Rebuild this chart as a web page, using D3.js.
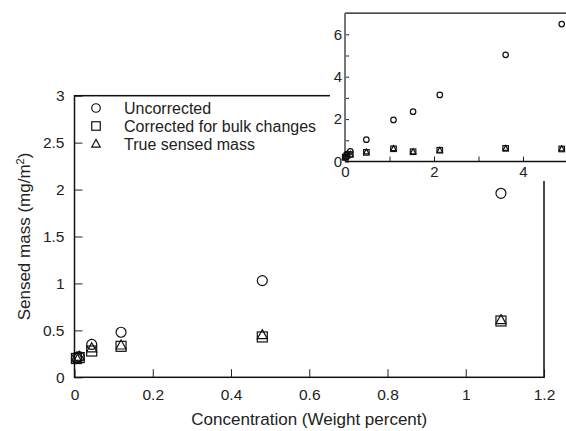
<!DOCTYPE html>
<html>
<head>
<meta charset="utf-8">
<script src="https://cdn.jsdelivr.net/npm/d3@7"></script>
<style>
  body { margin: 0; background: #fff; }
  svg { display: block; font-family: "Liberation Sans", Arial, sans-serif; }
  .axis text { font-size: 15.5px; fill: #222; }
  .axis line, .axis path { stroke: #222; }
  .inset .axis text { font-size: 15px; }
</style>
</head>
<body>
<div class="chart"></div>
<script>
// data
const conc = [0.005, 0.012, 0.044, 0.119, 0.48, 1.09, 1.53, 2.13, 3.61, 4.87];
const uncorrected = [0.2, 0.22, 0.35, 0.48, 1.03, 1.96, 2.35, 3.14, 5.03, 6.48];
const corrected = [0.2, 0.21, 0.28, 0.33, 0.43, 0.6, 0.46, 0.53, 0.62, 0.59];
const trueMass = [0.21, 0.22, 0.31, 0.34, 0.45, 0.61, 0.46, 0.53, 0.62, 0.6];
const seriesNames = ['Uncorrected', 'Corrected for bulk changes', 'True sensed mass'];
const mainXTicks = [0, 0.2, 0.4, 0.6, 0.8, 1, 1.2];
const mainYTicks = [0, 0.5, 1, 1.5, 2, 2.5, 3];
const insetXTicks = [0, 2, 4];
const insetYTicks = [0, 2, 4, 6];

const width = 566;
const height = 431;

const svg = d3.select('.chart').append('svg')
    .attr('width', width)
    .attr('height', height);

const series = [
    { name: seriesNames[0], values: uncorrected, shape: 'circle' },
    { name: seriesNames[1], values: corrected, shape: 'square' },
    { name: seriesNames[2], values: trueMass, shape: 'triangle' }
];

// draws one marker shape centred at 0,0
function marker(sel, shape, s) {
    if (shape === 'circle') {
        sel.append('circle').attr('r', s * 0.5);
    } else if (shape === 'square') {
        sel.append('rect').attr('x', -s / 2).attr('y', -s / 2).attr('width', s).attr('height', s);
    } else {
        const h = s * 0.9;
        sel.append('path').attr('d', `M0,${-h * 0.6}L${s / 2},${h * 0.4}L${-s / 2},${h * 0.4}Z`);
    }
    sel.selectAll('*').attr('fill', 'none').attr('stroke', '#111').attr('stroke-width', 1.2);
}

/* ---------- main plot ---------- */
const x = d3.scaleLinear().domain([0, 1.2]).range([74.5, 544]);
const y = d3.scaleLinear().domain([0, 3]).range([377.3, 95.7]);

svg.append('g')
    .attr('class', 'axis')
    .attr('transform', `translate(0, ${y(0)})`)
    .call(d3.axisBottom(x).tickValues(mainXTicks).tickSizeInner(-8).tickSizeOuter(0).tickPadding(12)
        .tickFormat(d3.format('~g')))
    .call(g => g.select('.domain').remove());

svg.append('g')
    .attr('class', 'axis')
    .attr('transform', `translate(${x(0)}, 0)`)
    .call(d3.axisLeft(y).tickValues(mainYTicks).tickSizeInner(-8).tickSizeOuter(0).tickPadding(10)
        .tickFormat(d3.format('~g')))
    .call(g => g.select('.domain').remove());

svg.append('rect')
    .attr('x', x(0)).attr('y', y(3))
    .attr('width', x(1.2) - x(0)).attr('height', y(0) - y(3))
    .attr('fill', 'none').attr('stroke', '#111').attr('stroke-width', 1.5);

series.forEach(s => {
    svg.append('g').selectAll('g')
        .data(conc.map((c, i) => [c, s.values[i]]).filter(d => d[0] <= 1.2))
        .enter().append('g')
        .attr('transform', d => `translate(${x(d[0])}, ${y(d[1])})`)
        .each(function () { marker(d3.select(this), s.shape, 10); });
});

// legend
const legend = svg.append('g').attr('transform', 'translate(96, 108)');
series.forEach((s, i) => {
    const row = legend.append('g').attr('transform', `translate(0, ${i * 18})`);
    marker(row.append('g'), s.shape, 8.5);
    row.append('text').attr('x', 28).attr('y', 5.5)
        .attr('font-size', 16).attr('fill', '#222').text(s.name);
});

// axis titles
svg.append('text')
    .attr('x', (x(0) + x(1.2)) / 2).attr('y', 425)
    .attr('text-anchor', 'middle').attr('font-size', 17).attr('fill', '#222')
    .text('Concentration (Weight percent)');

const yt = svg.append('text')
    .attr('transform', `translate(30, ${(y(0) + y(3)) / 2}) rotate(-90)`)
    .attr('text-anchor', 'middle').attr('font-size', 17).attr('fill', '#222');
yt.append('tspan').text('Sensed mass (mg/m');
yt.append('tspan').attr('dy', -6).attr('font-size', 11).text('2');
yt.append('tspan').attr('dy', 6).text(')');

/* ---------- inset ---------- */
const inset = svg.append('g').attr('class', 'inset');
inset.append('rect')
    .attr('x', 330).attr('y', 0).attr('width', 240).attr('height', 181)
    .attr('fill', '#fff');

const ix = d3.scaleLinear().domain([0, 5]).range([345, 567.5]);
const iy = d3.scaleLinear().domain([0, 7]).range([161.5, 13.1]);

inset.append('g')
    .attr('class', 'axis')
    .attr('transform', `translate(0, ${iy(0)})`)
    .call(d3.axisBottom(ix).tickValues(d3.range(0, 6)).tickSizeInner(-5).tickSizeOuter(0).tickPadding(5)
        .tickFormat(d => insetXTicks.includes(d) ? d : ''))
    .call(g => g.select('.domain').remove());

inset.append('g')
    .attr('class', 'axis')
    .attr('transform', `translate(${ix(0)}, 0)`)
    .call(d3.axisLeft(iy).tickValues(d3.range(0, 7)).tickSizeInner(-4).tickSizeOuter(0).tickPadding(3)
        .tickFormat(d => insetYTicks.includes(d) ? d : ''))
    .call(g => g.select('.domain').remove());

inset.append('line')
    .attr('x1', ix(0)).attr('x2', ix(5)).attr('y1', iy(0)).attr('y2', iy(0))
    .attr('stroke', '#111').attr('stroke-width', 1.3);
inset.append('line')
    .attr('x1', ix(0)).attr('x2', ix(5)).attr('y1', iy(7)).attr('y2', iy(7))
    .attr('stroke', '#111').attr('stroke-width', 1.3);
inset.append('line')
    .attr('x1', ix(0)).attr('x2', ix(0)).attr('y1', iy(0)).attr('y2', iy(7))
    .attr('stroke', '#777').attr('stroke-width', 2);

series.forEach(s => {
    inset.append('g').selectAll('g')
        .data(conc.map((c, i) => [c, s.values[i]]))
        .enter().append('g')
        .attr('transform', d => `translate(${ix(d[0])}, ${iy(d[1])})`)
        .each(function () { marker(d3.select(this), s.shape, 5.5); });
});
</script>
</body>
</html>
